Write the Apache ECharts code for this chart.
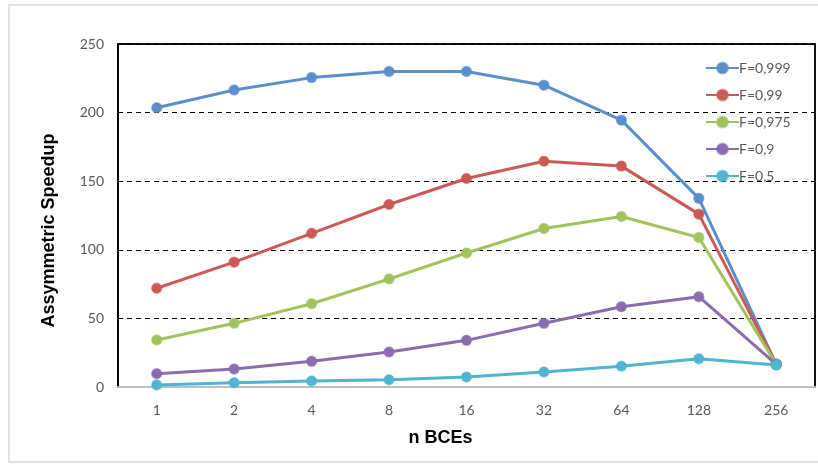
<!DOCTYPE html>
<html>
<head>
<meta charset="utf-8">
<script src="https://cdn.jsdelivr.net/npm/echarts@6/dist/echarts.min.js"></script>
<style>
  html, body { margin: 0; padding: 0; background: #fff; }
  #chart { width: 818px; height: 464px; }
</style>
</head>
<body>
<div id="chart"></div>
<script>
// categories (x) and series values
const categories = ['1', '2', '4', '8', '16', '32', '64', '128', '256'];
const f0999 = [203.5, 216.5, 225.5, 230, 230, 220, 194.5, 137.5, 16.5];
const f099 = [72, 91, 112, 133, 152, 164.5, 161, 126, 16.5];
const f0975 = [34.3, 46.4, 60.7, 78.7, 97.7, 115.5, 124.3, 109, 16.5];
const f09 = [9.7, 13.1, 18.7, 25.5, 34, 46.4, 58.5, 65.8, 16.5];
const f05 = [1.5, 3.1, 4.4, 5.3, 7.3, 10.9, 15.1, 20.6, 16];
const seriesNames = ['F=0,999', 'F=0,99', 'F=0,975', 'F=0,9', 'F=0,5'];
const colors = ['#5B8FCB', '#CB5A55', '#A2C25E', '#8A6DAE', '#4FB5D0'];

const chart = echarts.init(document.getElementById('chart'));

function line(name, data, color) {
  return {
    name: name,
    type: 'line',
    data: data,
    symbol: 'circle',
    symbolSize: 10,
    lineStyle: { color: color, width: 3 },
    itemStyle: { color: color, borderColor: echarts.color.modifyAlpha(color, 0.5), borderWidth: 1.5 },
    z: 3
  };
}

const option = {
  animation: false,
  color: colors,
  graphic: [{
    type: 'rect',
    shape: { x: 9, y: 5, width: 812, height: 457 },
    style: { fill: 'none', stroke: '#e2e2e2', lineWidth: 2 },
    silent: true
  }],
  grid: {
    left: 118, right: 3, top: 44, bottom: 77, containLabel: false,
    show: true, borderColor: '#111', borderWidth: 2, backgroundColor: 'transparent'
  },
  legend: {
    orient: 'vertical',
    left: 700,
    top: 56,
    itemGap: 13,
    itemWidth: 33,
    itemHeight: 14,
    data: seriesNames,
    textStyle: { fontFamily: 'Lato, "Open Sans", sans-serif', fontSize: 14, color: '#595959', padding: [0, 0, 0, -5] }
  },
  xAxis: {
    type: 'category',
    data: categories,
    boundaryGap: true,
    axisTick: { show: false },
    axisLine: { lineStyle: { color: '#bfbfbf', width: 2 } },
    axisLabel: { color: '#595959', fontSize: 14, margin: 16, fontFamily: 'Lato, "Open Sans", sans-serif' },
    name: 'n BCEs',
    nameLocation: 'middle',
    nameGap: 42,
    nameTextStyle: { fontFamily: 'Liberation Sans, Arial, sans-serif', fontWeight: 'bold', fontSize: 18, color: '#000', padding: [0, 52, 0, 0] }
  },
  yAxis: {
    type: 'value',
    min: 0,
    max: 250,
    interval: 50,
    axisTick: { show: false },
    axisLine: { show: true, lineStyle: { color: '#000', width: 2 } },
    axisLabel: { color: '#595959', fontSize: 14, margin: 14, fontFamily: 'Lato, "Open Sans", sans-serif' },
    splitLine: { lineStyle: { color: '#000', type: [5, 4], width: 1.2 } },
    name: 'Assymmetric Speedup',
    nameLocation: 'middle',
    nameGap: 60,
    nameTextStyle: { fontFamily: 'Liberation Sans, Arial, sans-serif', fontWeight: 'bold', fontSize: 18, color: '#000', padding: [0, 30, 0, 0] },
    nameRotate: 90
  },
  series: [
    line(seriesNames[0], f0999, colors[0]),
    line(seriesNames[1], f099, colors[1]),
    line(seriesNames[2], f0975, colors[2]),
    line(seriesNames[3], f09, colors[3]),
    line(seriesNames[4], f05, colors[4])
  ]
};

chart.setOption(option);
</script>
</body>
</html>
